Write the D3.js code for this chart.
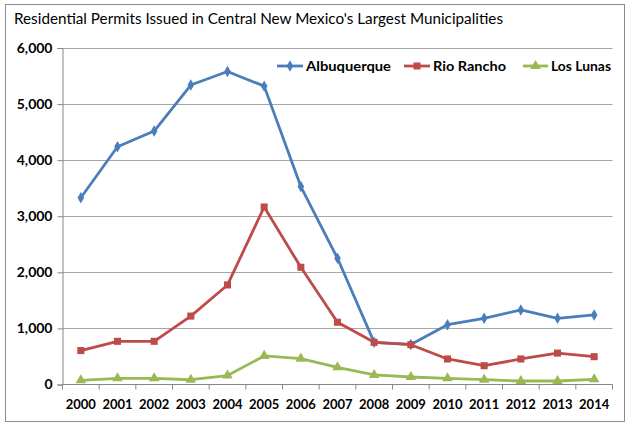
<!DOCTYPE html>
<html>
<head>
<meta charset="utf-8">
<script src="https://cdn.jsdelivr.net/npm/d3@7"></script>
<style>
  body { margin: 0; background: #fff; }
  text { font-family: Lato, "Liberation Sans", sans-serif; }
</style>
</head>
<body>
<div id="chart"></div>
<script>
var width = 632, height = 427;
var margin = { top: 48, left: 62.5, right: 19.5, bottom: 42.5 };

// data
var years = ["2000","2001","2002","2003","2004","2005","2006","2007","2008","2009","2010","2011","2012","2013","2014"];
var albuquerque = [3330, 4240, 4520, 5340, 5580, 5320, 3530, 2250, 752, 715, 1066, 1180, 1330, 1180, 1240];
var rioRancho = [605, 770, 770, 1220, 1775, 3165, 2090, 1110, 752, 710, 455, 335, 455, 560, 496];
var losLunas = [75, 110, 110, 85, 160, 510, 460, 307, 170, 134, 110, 86, 62, 62, 93];
var yTicks = [0, 1000, 2000, 3000, 4000, 5000, 6000];

var series = [
  { name: "Albuquerque", values: albuquerque, color: "#4a7ebb", marker: "diamond", lx: 277, lx2: 303, tx: 306, tw: 85 },
  { name: "Rio Rancho", values: rioRancho, color: "#be4b48", marker: "square", lx: 404, lx2: 430, tx: 433, tw: 73 },
  { name: "Los Lunas", values: losLunas, color: "#98b954", marker: "triangle", lx: 523, lx2: 548, tx: 551, tw: 60 }
];

var svg = d3.select("#chart").append("svg")
  .attr("width", width)
  .attr("height", height);

svg.append("rect")
  .attr("x", 5.5).attr("y", 4.5)
  .attr("width", 619).attr("height", 417)
  .attr("fill", "#fff")
  .attr("stroke", "#8c8c8c");

svg.append("text")
  .attr("x", 14).attr("y", 24)
  .attr("font-size", 14.5)
  .attr("fill", "#000")
  .attr("textLength", 489)
  .attr("lengthAdjust", "spacingAndGlyphs")
  .text("Residential Permits Issued in Central New Mexico's Largest Municipalities");

var x = d3.scaleBand().domain(years).range([margin.left, width - margin.right]);
var y = d3.scaleLinear().domain([0, 6000]).range([height - margin.bottom, margin.top]);

// gridlines
svg.append("g").selectAll("line")
  .data(yTicks.filter(d => d > 0))
  .join("line")
  .attr("x1", margin.left).attr("x2", width - margin.right)
  .attr("y1", d => Math.round(y(d)) + 0.5).attr("y2", d => Math.round(y(d)) + 0.5)
  .attr("stroke", "#a6a6a6");

// y axis
var yAxis = svg.append("g")
  .attr("transform", "translate(" + margin.left + ",0)")
  .call(d3.axisLeft(y).tickValues(yTicks).tickSize(5).tickPadding(5).tickFormat(d3.format(",")));
yAxis.select(".domain").attr("stroke", "#868686");
yAxis.selectAll(".tick line").attr("stroke", "#868686");
yAxis.selectAll(".tick text")
  .attr("font-family", "Lato, 'Liberation Sans', sans-serif")
  .attr("font-size", 14).attr("font-weight", "bold").attr("fill", "#000");

// x axis
var x0 = y(0);
svg.append("line")
  .attr("x1", margin.left).attr("x2", width - margin.right)
  .attr("y1", x0).attr("y2", x0)
  .attr("stroke", "#868686");
svg.append("g").selectAll("line")
  .data(years.concat(["end"]))
  .join("line")
  .attr("x1", (d, i) => margin.left + i * x.step())
  .attr("x2", (d, i) => margin.left + i * x.step())
  .attr("y1", x0).attr("y2", x0 + 5)
  .attr("stroke", "#868686");
svg.append("g").selectAll("text")
  .data(years)
  .join("text")
  .attr("x", d => x(d) + x.bandwidth() / 2)
  .attr("y", 409)
  .attr("text-anchor", "middle")
  .attr("font-size", 13).attr("font-weight", "bold")
  .text(d => d);

function markerPath(type) {
  if (type === "diamond") return d3.symbol().type(d3.symbolDiamond).size(38)();
  if (type === "square") return d3.symbol().type(d3.symbolSquare).size(50)();
  return d3.symbol().type(d3.symbolTriangle).size(48)();
}

var line = d3.line()
  .x((d, i) => x(years[i]) + x.bandwidth() / 2)
  .y(d => y(d));

series.forEach(function(s) {
  svg.append("path")
    .datum(s.values)
    .attr("d", line)
    .attr("fill", "none")
    .attr("stroke", s.color)
    .attr("stroke-width", 2.8)
    .attr("stroke-linejoin", "round");
  svg.append("g").selectAll("path")
    .data(s.values)
    .join("path")
    .attr("d", markerPath(s.marker))
    .attr("transform", (d, i) => "translate(" + (x(years[i]) + x.bandwidth() / 2) + "," + y(d) + ")")
    .attr("fill", s.color);

  // legend
  var ly = 66;
  svg.append("line")
    .attr("x1", s.lx).attr("x2", s.lx2)
    .attr("y1", ly).attr("y2", ly)
    .attr("stroke", s.color).attr("stroke-width", 2.8);
  svg.append("path")
    .attr("d", markerPath(s.marker))
    .attr("transform", "translate(" + ((s.lx + s.lx2) / 2) + "," + ly + ")")
    .attr("fill", s.color);
  svg.append("text")
    .attr("x", s.tx).attr("y", ly + 5)
    .attr("font-size", 14).attr("font-weight", "bold")
    .attr("textLength", s.tw)
    .attr("lengthAdjust", "spacingAndGlyphs")
    .text(s.name);
});
</script>
</body>
</html>
